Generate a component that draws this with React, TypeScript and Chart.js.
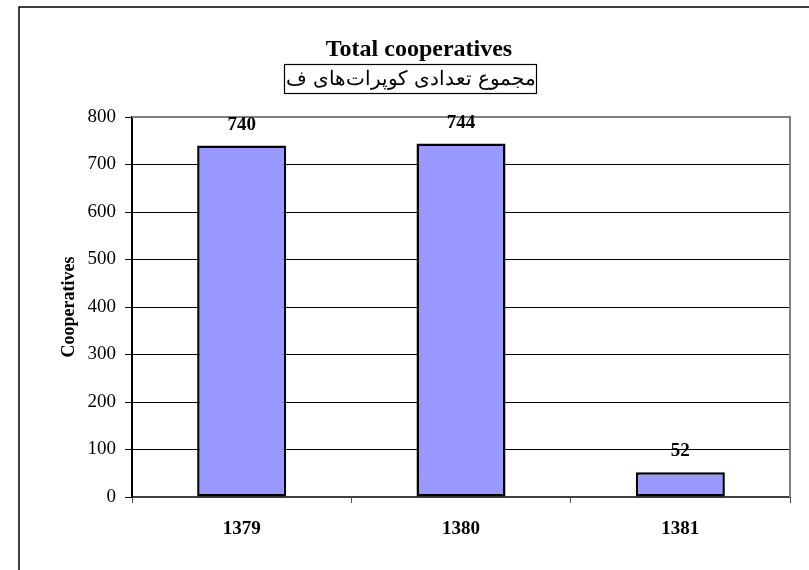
import React, { useEffect, useRef } from "react";
import { Chart, registerables } from "chart.js";

Chart.register(...registerables);

const categories = ["1379", "1380", "1381"];
const values = [740, 744, 52];
const yTicks = [0, 100, 200, 300, 400, 500, 600, 700, 800];
const titleText = "Total cooperatives";
const subtitleWords = ["ف", "کوپرات\u200Cهای", "تعدادی", "مجموع"];
const yAxisTitle = "Cooperatives";

const SERIF = "'Liberation Serif', 'Times New Roman', serif";

const decorPlugin = {
  id: "decor",
  beforeDraw(chart: any) {
    const ctx = chart.ctx;
    ctx.save();
    ctx.fillStyle = "#ffffff";
    ctx.fillRect(0, 0, chart.width, chart.height);
    ctx.strokeStyle = "#000000";
    ctx.lineWidth = 1.5;
    ctx.beginPath();
    ctx.moveTo(19, chart.height + 5);
    ctx.lineTo(19, 7);
    ctx.lineTo(chart.width + 5, 7);
    ctx.stroke();
    ctx.restore();
  },
  beforeDatasetsDraw(chart: any) {
    const ctx = chart.ctx;
    const a = chart.chartArea;
    ctx.save();
    ctx.strokeStyle = "#808080";
    ctx.lineWidth = 2;
    ctx.beginPath();
    ctx.moveTo(a.left, a.top);
    ctx.lineTo(a.right, a.top);
    ctx.lineTo(a.right, a.bottom);
    ctx.stroke();
    ctx.restore();
  },
  afterDraw(chart: any) {
    const ctx = chart.ctx;
    ctx.save();
    ctx.fillStyle = "#000";
    ctx.textAlign = "center";
    ctx.textBaseline = "middle";
    ctx.font = `bold 24px ${SERIF}`;
    ctx.fillText(titleText, 419, 50);
    // subtitle box
    ctx.strokeStyle = "#000";
    ctx.lineWidth = 1.2;
    ctx.strokeRect(284.5, 64.5, 252, 29);
    // subtitle words laid out left to right as in the reference
    ctx.font = `20px ${SERIF}`;
    ctx.textAlign = "left";
    const gap = 6;
    const widths = subtitleWords.map((w) => ctx.measureText(w).width);
    const total = widths.reduce((s, w) => s + w, 0) + gap * (subtitleWords.length - 1);
    let x = 411 - total / 2;
    subtitleWords.forEach((w, i) => {
      ctx.fillText(w, x, 80);
      x += widths[i] + gap;
    });
    // data labels
    ctx.textAlign = "center";
    const meta = chart.getDatasetMeta(0);
    ctx.font = `bold 19px ${SERIF}`;
    ctx.textBaseline = "alphabetic";
    meta.data.forEach((bar: any, i: number) => {
      ctx.fillText(String(values[i]), bar.x, bar.y - 16);
    });
    ctx.restore();
  },
};

export default function App() {
  const ref = useRef<HTMLCanvasElement>(null);
  useEffect(() => {
    if (!ref.current) return;
    const chart = new Chart(ref.current, {
      type: "bar",
      data: {
        labels: categories,
        datasets: [
          {
            data: values,
            backgroundColor: "#9999FF",
            borderColor: "#000000",
            borderWidth: 2.5,
            borderSkipped: false,
            categoryPercentage: 1,
            barPercentage: 0.406,
          },
        ],
      },
      plugins: [decorPlugin],
      options: {
        responsive: false,
        animation: false,
        devicePixelRatio: 1,
        layout: { padding: { left: 0, right: 19, top: 117, bottom: 0 } },
        plugins: {
          legend: { display: false },
          title: { display: false },
          tooltip: { enabled: false },
        },
        scales: {
          x: {
            afterFit: (s: any) => {
              s.height = 73;
            },
            grid: {
              display: true,
              drawOnChartArea: false,
              offset: true,
              tickLength: 6,
              color: "#555555",
              lineWidth: 1,
            },
            border: { display: true, color: "#404040", width: 2 },
            ticks: {
              color: "#000",
              font: { family: SERIF, size: 19, weight: "bold" },
              padding: 15,
              maxRotation: 0,
            },
          },
          y: {
            min: 0,
            max: 800,
            afterFit: (s: any) => {
              s.width = 132;
            },
            afterBuildTicks: (s: any) => {
              s.ticks = yTicks.map((v) => ({ value: v }));
            },
            grid: {
              color: "#000000",
              lineWidth: 1,
              tickLength: 7,
            },
            border: { display: true, color: "#000000", width: 2 },
            ticks: {
              color: "#000",
              font: { family: SERIF, size: 19 },
              padding: 9,
            },
            title: {
              display: true,
              text: yAxisTitle,
              color: "#000",
              font: { family: SERIF, size: 18, weight: "bold" },
              padding: { top: 59, bottom: 0 },
            },
          },
        },
      },
    } as any);
    return () => chart.destroy();
  }, []);
  return (
    <div style={{ position: "fixed", left: 0, top: 0, width: 809, height: 570, background: "#fff" }}>
      <canvas ref={ref} width={809} height={570} style={{ width: 809, height: 570, display: "block" }} />
    </div>
  );
}
